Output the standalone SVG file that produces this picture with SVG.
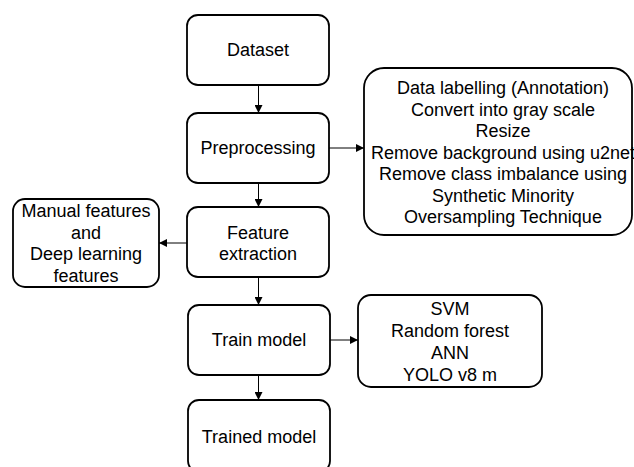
<svg xmlns="http://www.w3.org/2000/svg" width="634" height="467" viewBox="0 0 634 467">
<style>
.box{fill:#fff;stroke:#000;stroke-width:1.8}
.t{font-family:"Liberation Sans",Arial,sans-serif;font-size:18px;fill:#000;text-anchor:middle}
.c{stroke:#000;stroke-width:1;fill:none;marker-end:url(#ah)}
</style>
<defs>
<marker id="ah" viewBox="0 0 10 10" refX="10" refY="5" markerWidth="8" markerHeight="8" markerUnits="userSpaceOnUse" orient="auto">
<path d="M0,0 L10,5 L0,10 Z" fill="#000"/>
</marker>
</defs>
<rect width="634" height="467" fill="#fff"/>
<g id="connectors">
<line class="c" x1="258.5" y1="85" x2="258.5" y2="113"/>
<line class="c" x1="329" y1="148" x2="364" y2="148"/>
<line class="c" x1="258.5" y1="183" x2="258.5" y2="207"/>
<line class="c" x1="187" y1="243" x2="159" y2="243"/>
<line class="c" x1="258.5" y1="277" x2="258.5" y2="305"/>
<line class="c" x1="330" y1="340" x2="358" y2="340"/>
<line class="c" x1="258.5" y1="375" x2="258.5" y2="400"/>
</g>
<g id="dataset">
<rect class="box" x="187" y="15" width="142" height="70" rx="11"/>
<text class="t" x="258" y="56">Dataset</text>
</g>
<g id="preprocessing">
<rect class="box" x="187" y="113" width="142" height="70" rx="11"/>
<text class="t" x="258" y="154">Preprocessing</text>
</g>
<g id="prep-steps">
<rect class="box" x="364" y="68" width="268" height="167" rx="20"/>
<text class="t" x="503" y="94">Data labelling (Annotation)</text>
<text class="t" x="503" y="115.5">Convert into gray scale</text>
<text class="t" x="503" y="137">Resize</text>
<text class="t" x="503" y="158.5">Remove background using u2net</text>
<text class="t" x="503" y="180">Remove class imbalance using</text>
<text class="t" x="503" y="201.5">Synthetic Minority</text>
<text class="t" x="503" y="223">Oversampling Technique</text>
</g>
<g id="feature-extraction">
<rect class="box" x="187" y="207" width="142" height="70" rx="11"/>
<text class="t" x="258" y="238.5">Feature</text>
<text class="t" x="258" y="260">extraction</text>
</g>
<g id="features">
<rect class="box" x="13" y="199" width="146" height="88" rx="12"/>
<text class="t" x="86" y="217">Manual features</text>
<text class="t" x="86" y="238.5">and</text>
<text class="t" x="86" y="260">Deep learning</text>
<text class="t" x="86" y="281.5">features</text>
</g>
<g id="train-model">
<rect class="box" x="188" y="305" width="142" height="70" rx="11"/>
<text class="t" x="259" y="346">Train model</text>
</g>
<g id="models">
<rect class="box" x="358" y="295" width="184" height="92" rx="13"/>
<text class="t" x="450" y="315">SVM</text>
<text class="t" x="450" y="337">Random forest</text>
<text class="t" x="450" y="359">ANN</text>
<text class="t" x="450" y="381">YOLO v8 m</text>
</g>
<g id="trained-model">
<rect class="box" x="188" y="400" width="142" height="72" rx="11"/>
<text class="t" x="259" y="443">Trained model</text>
</g>
</svg>
